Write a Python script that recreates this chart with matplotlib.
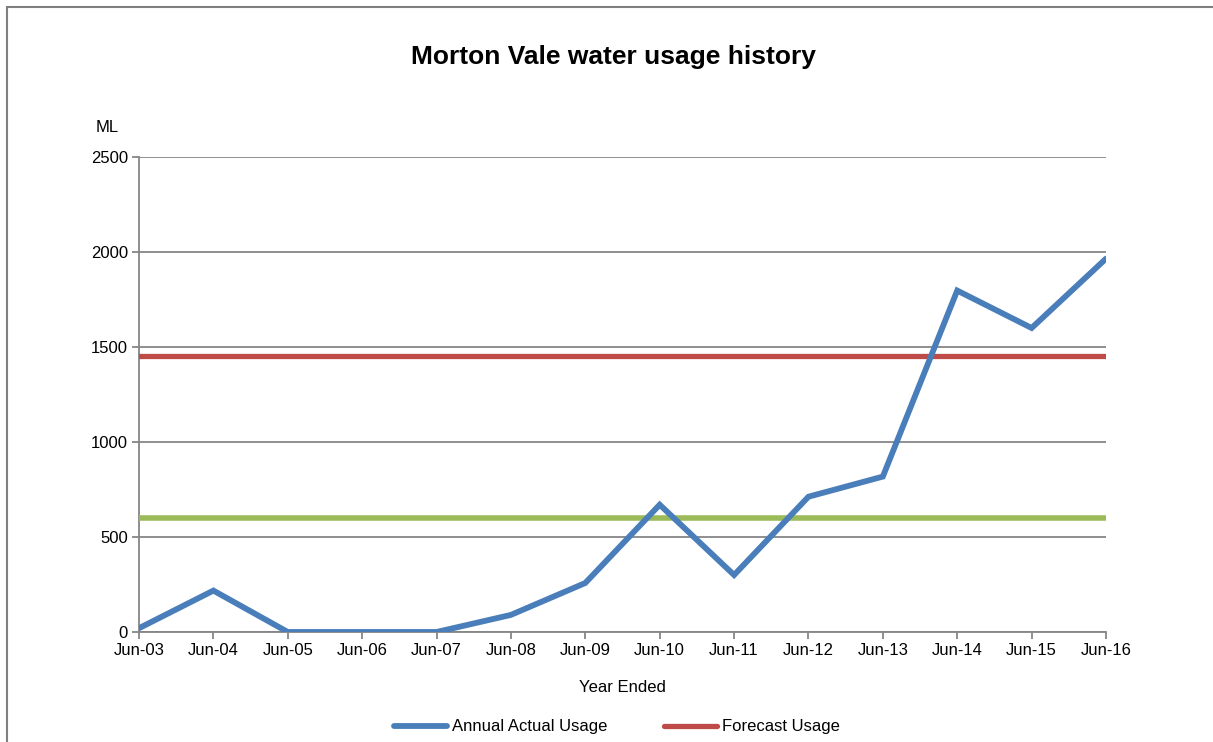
import numpy as np
from matplotlib import pyplot as plt
from matplotlib.patches import Rectangle

plt.rcParams['font.family'] = ['Liberation Sans', 'DejaVu Sans']

years = ['Jun-03', 'Jun-04', 'Jun-05', 'Jun-06', 'Jun-07', 'Jun-08', 'Jun-09',
         'Jun-10', 'Jun-11', 'Jun-12', 'Jun-13', 'Jun-14', 'Jun-15', 'Jun-16']
actual = [20, 218, 0, 0, 0, 90, 258, 670, 300, 712, 818, 1797, 1600, 1965]
forecast = [1452] * len(years)
green_level = [602] * len(years)

fig = plt.figure(figsize=(12.13, 7.42), dpi=100)
ax = fig.add_axes([139 / 1213, 1 - 632 / 742, (1106 - 139) / 1213, (632 - 157) / 742])

x = np.arange(len(years))
grey = '#868686'

ax.plot(x, green_level, color='#9BBB59', lw=4.0, solid_capstyle='round', zorder=3)
ax.plot(x, forecast, color='#BE4B48', lw=3.8, solid_capstyle='round', zorder=3,
        label='Forecast Usage')
ax.plot(x, actual, color='#4A7EBB', lw=4.2, solid_capstyle='round',
        solid_joinstyle='miter', zorder=4, label='Annual Actual Usage')

ax.set_xlim(0, len(years) - 1)
ax.set_ylim(0, 2500)
ax.set_yticks(range(0, 2501, 500))
ax.set_xticks(x)
ax.set_xticklabels(years)
ax.yaxis.grid(True, color=grey, lw=1.3)
ax.set_axisbelow(True)
for s in ['top', 'right']:
    ax.spines[s].set_visible(False)
for s in ['left', 'bottom']:
    ax.spines[s].set_color(grey)
    ax.spines[s].set_linewidth(1.3)
ax.tick_params(axis='both', colors=grey, length=5, width=1.3, labelsize=12,
               labelcolor='black')
ax.tick_params(axis='x', pad=3)
ax.tick_params(axis='y', pad=3)

ax.set_xlabel('Year Ended', fontsize=12, labelpad=16)
fig.text(107 / 1213, 1 - 127 / 742, 'ML', fontsize=12, ha='center', va='center')
fig.text(613 / 1213, 1 - 57 / 742, 'Morton Vale water usage history',
         fontsize=19, fontweight='bold', ha='center', va='center')

h, l = ax.get_legend_handles_labels()
fig.legend(h[::-1], l[::-1], loc='center', bbox_to_anchor=(617 / 1213, 1 - 727 / 742),
           ncol=2, frameon=False, fontsize=12, handlelength=3.2, handletextpad=0.3,
           columnspacing=3.4)

fig.patches.append(Rectangle((7 / 1213, -0.05), 1.1, 1.05 - 7 / 742,
                             transform=fig.transFigure, fill=False,
                             edgecolor='#7f7f7f', lw=1.5))

fig.savefig('out.png', dpi=100)
